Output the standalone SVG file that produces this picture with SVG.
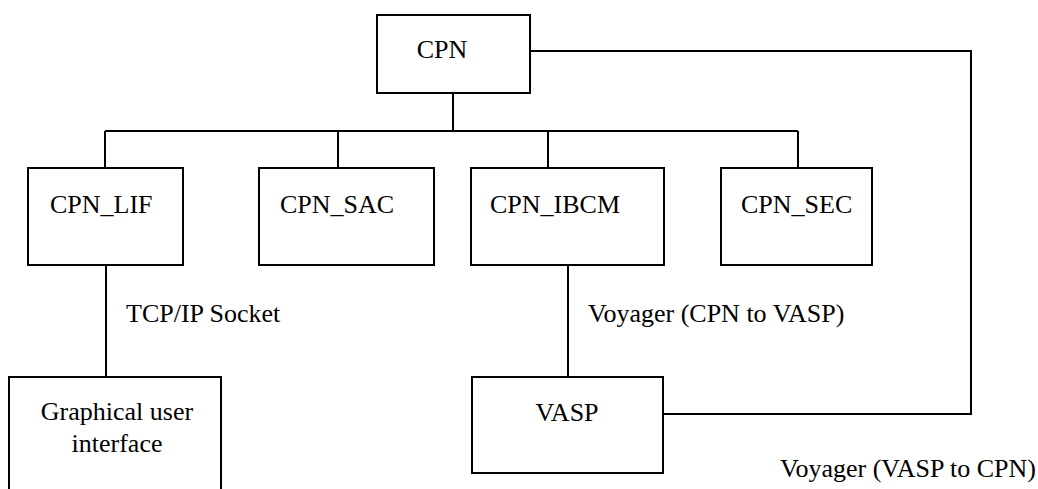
<svg xmlns="http://www.w3.org/2000/svg" width="1038" height="489" viewBox="0 0 1038 489">
<style>
.box{fill:#fff;stroke:#000;stroke-width:2}
.ln{fill:none;stroke:#000;stroke-width:2}
text{font-family:"Liberation Serif","Times New Roman",serif;font-size:26px;fill:#000}
.m{text-anchor:middle}
</style>
<rect width="1038" height="489" fill="#fff"/>
<g id="connectors">
<path class="ln" d="M453 93V131M105 131H798M105 131V168M338 131V168M548 131V168M798 131V168"/>
<path class="ln" d="M106 265V377"/>
<path class="ln" d="M568 265V377"/>
<path class="ln" d="M663 414H971V51H530"/>
<text x="126" y="322">TCP/IP Socket</text>
<text x="588" y="322">Voyager (CPN to VASP)</text>
<text x="780" y="477">Voyager (VASP to CPN)</text>
</g>
<g id="cpn"><rect class="box" x="377" y="15" width="153" height="78"/><text class="m" x="442" y="58">CPN</text></g>
<g id="cpn_lif"><rect class="box" x="28" y="168" width="155" height="97"/><text x="50" y="213">CPN_LIF</text></g>
<g id="cpn_sac"><rect class="box" x="259" y="168" width="175" height="97"/><text x="280" y="213">CPN_SAC</text></g>
<g id="cpn_ibcm"><rect class="box" x="471" y="168" width="193" height="97"/><text x="490" y="213">CPN_IBCM</text></g>
<g id="cpn_sec"><rect class="box" x="721" y="168" width="151" height="97"/><text x="741" y="213">CPN_SEC</text></g>
<g id="gui"><path class="ln" d="M9 490V377H221V490"/><text class="m" x="117" y="420">Graphical user</text><text class="m" x="117" y="452">interface</text></g>
<g id="vasp"><rect class="box" x="472" y="377" width="191" height="96"/><text class="m" x="567" y="421">VASP</text></g>
</svg>
